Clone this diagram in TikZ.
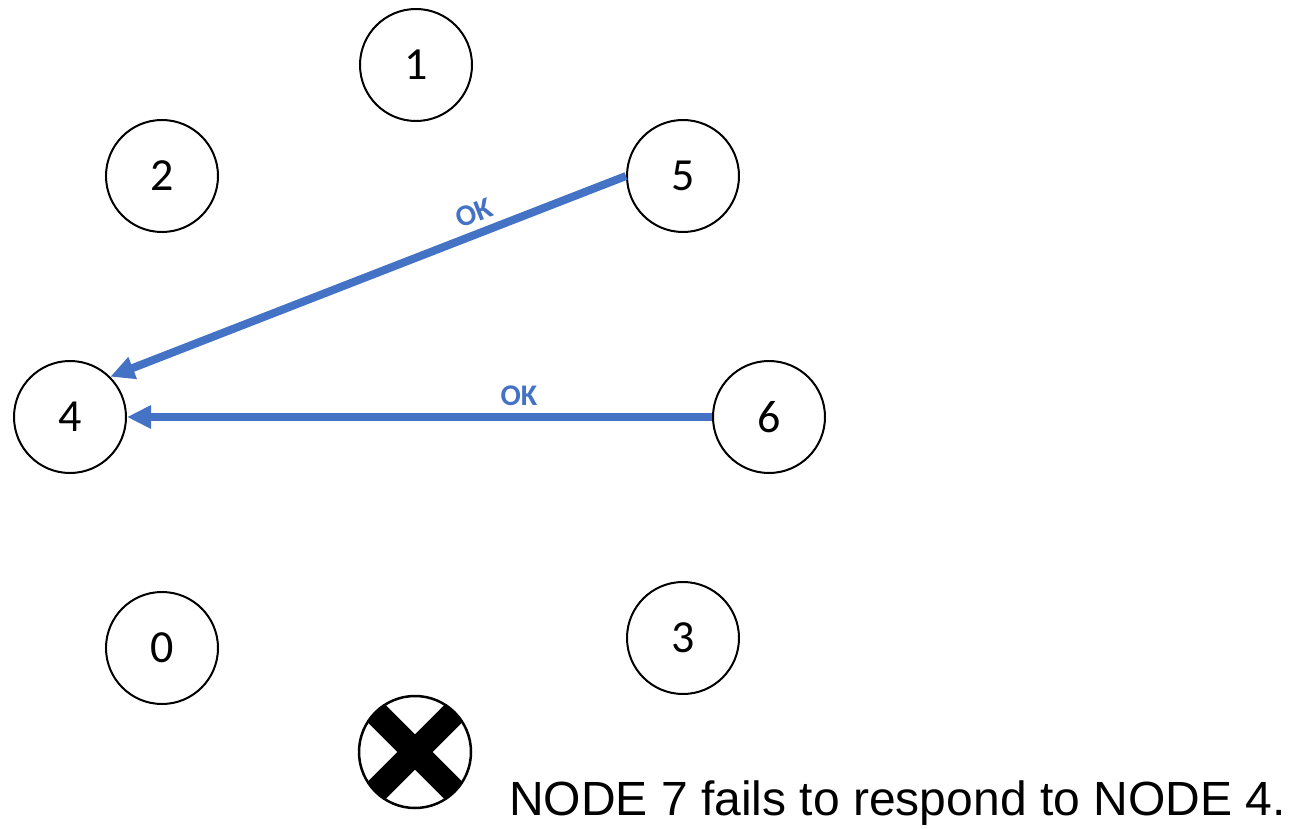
\documentclass[tikz,border=0pt]{standalone}
\usepackage{fontspec}
\setmainfont{Liberation Sans}
\newfontfamily\numfont{Carlito}
\usetikzlibrary{arrows.meta}
\definecolor{linkblue}{HTML}{4472C4}
\tikzset{
  peer/.style={circle, draw=black, line width=2pt, minimum size=112pt, inner sep=0pt,
               font=\numfont\fontsize{46}{46}\selectfont},
  okmsg/.style={linkblue, line width=8pt,
                {Triangle[length=24pt,width=22pt]}-},
  oklabel/.style={text=linkblue, font=\numfont\bfseries\fontsize{30}{30}\selectfont, inner sep=2pt}
}
\begin{document}
\begin{tikzpicture}[x=1pt,y=-1pt]
  \useasboundingbox (0,0) rectangle (1294,829);

  % peers of the ring
  \node[peer] (n1) at (416,65)  {1};
  \node[peer] (n2) at (162,176) {2};
  \node[peer] (n5) at (683,176) {5};
  \node[peer] (n4) at (70,417)  {4};
  \node[peer] (n6) at (769,417) {6};
  \node[peer] (n0) at (162,648) {0};
  \node[peer] (n3) at (683,638) {3};

  % failed peer, drawn as a crossed-out circle
  \node[circle, minimum size=114pt, inner sep=0pt] (n7) at (415,752) {};
  \begin{scope}
    \clip (n7.center) circle (57pt);
    \draw[line width=25pt, black] (n7.north west) -- (n7.south east);
    \draw[line width=25pt, black] (n7.north east) -- (n7.south west);
  \end{scope}
  \draw[line width=2.5pt] (n7.center) circle (56pt);

  % replies
  \draw[okmsg] (n4.45) -- node[oklabel, pos=0.72, sloped, above=5pt] {OK} (n5.west);
  \draw[okmsg] (n4.east) -- node[oklabel, pos=0.67, above=5pt] {OK} (n6.west);

  \node[anchor=base west, inner sep=0pt, font=\fontsize{48}{48}\selectfont] (caption)
    at (509,815) {NODE 7 fails to respond to NODE 4.};
\end{tikzpicture}
\end{document}
